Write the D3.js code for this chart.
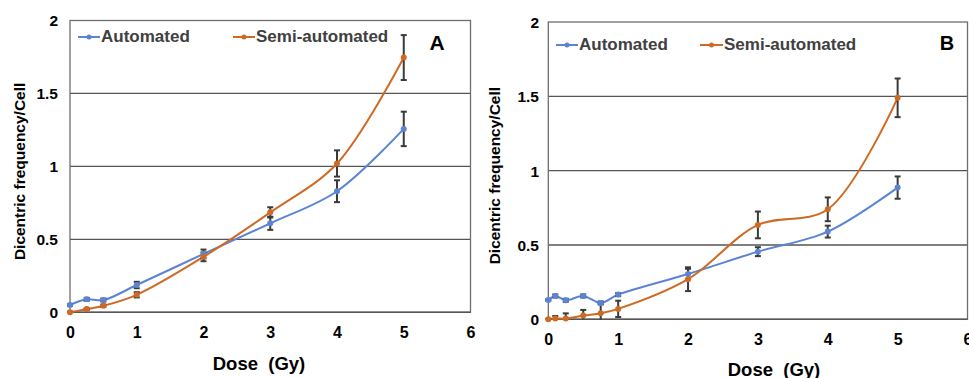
<!DOCTYPE html>
<html><head><meta charset="utf-8">
<script src="https://cdn.jsdelivr.net/npm/d3@7"></script>
<style>body{margin:0;background:#fff}svg{display:block}</style>
</head><body>
<svg id="c" width="969" height="378"></svg>
<script>
// ---- data ----
const xTicks = [0, 1, 2, 3, 4, 5, 6];
const yTicks = [0, 0.5, 1, 1.5, 2];
const yTickLabels = ["0", "0.5", "1", "1.5", "2"];
const seriesNames = ["Automated", "Semi-automated"];

const dosesA = [0, 0.25, 0.5, 1, 2, 3, 4, 5];
const autoA = [0.05, 0.089, 0.084, 0.187, 0.40, 0.61, 0.83, 1.257];
const autoErrA = [0.005, 0.01, 0.01, 0.022, 0.03, 0.045, 0.075, 0.118];
const semiA = [0, 0.022, 0.045, 0.12, 0.38, 0.685, 1.02, 1.746];
const semiErrA = [0.004, 0.005, 0.008, 0.018, 0.03, 0.035, 0.09, 0.154];

const dosesB = [0, 0.1, 0.25, 0.5, 0.75, 1, 2, 3, 4, 5];
const autoB = [0.13, 0.157, 0.128, 0.157, 0.11, 0.166, 0.305, 0.455, 0.59, 0.886];
const autoErrB = [0.005, 0.01, 0.01, 0.01, 0.01, 0.01, 0.035, 0.03, 0.04, 0.075];
const semiB = [0, 0.005, 0.005, 0.025, 0.04, 0.07, 0.27, 0.635, 0.74, 1.49];
const semiErrB = [0.003, 0.017, 0.035, 0.038, 0.065, 0.055, 0.08, 0.09, 0.08, 0.13];

// ---- drawing ----
const colors = ["#5b84d4", "#cf6a24"];
const svg = d3.select("#c");
const FONT = "'Liberation Sans', Arial, sans-serif";

const panels = [
  {label: "A", doses: dosesA, series: [[autoA, autoErrA], [semiA, semiErrA]],
   x0: 70, x1: 470.5, y0: 312.3, y1: 20.5,
   yTitleX: 25, yTickX: 58, xTickY: 337.5, xTitle: [259, 370],
   legend: [[78, 37, 101, 42], [233, 37, 256, 42]], letter: [437, 50, 21]},
  {label: "B", doses: dosesB, series: [[autoB, autoErrB], [semiB, semiErrB]],
   x0: 548.3, x1: 967.5, y0: 319.3, y1: 22,
   yTitleX: 500, yTickX: 539, xTickY: 344.5, xTitle: [774, 375.5],
   legend: [[556, 45, 579, 50], [700, 45, 724, 50]], letter: [947, 50, 20]}
];

panels.forEach(p => {
  const x = d3.scaleLinear().domain([0, 6]).range([p.x0, p.x1]);
  const y = d3.scaleLinear().domain([0, 2]).range([p.y0, p.y1]);
  const g = svg.append("g");

  // gridlines
  g.selectAll(".grid").data(yTicks.slice(1, 4)).join("line")
    .attr("x1", p.x0).attr("x2", p.x1)
    .attr("y1", d => y(d)).attr("y2", d => y(d))
    .attr("stroke", "#555").attr("stroke-width", 1.3);
  // frame
  g.append("rect").attr("x", p.x0).attr("y", y(2)).attr("width", p.x1 - p.x0).attr("height", y(0) - y(2))
    .attr("fill", "none").attr("stroke", "#6e6e6e").attr("stroke-width", 1.3);
  g.append("line").attr("x1", p.x0).attr("x2", p.x1).attr("y1", y(0)).attr("y2", y(0))
    .attr("stroke", "#555").attr("stroke-width", 1.5);

  // y ticks
  const ya = d3.axisLeft(y).tickValues(yTicks).tickFormat((d, i) => yTickLabels[i]).tickSize(0).tickPadding(0);
  const yg = g.append("g").attr("transform", `translate(${p.yTickX},0)`).call(ya);
  yg.select(".domain").remove();
  yg.selectAll("text").attr("font-family", FONT).attr("font-weight", "bold").attr("font-size", 15.5)
    .attr("fill", "#000").attr("dy", "0.35em");

  // x ticks
  const xa = d3.axisBottom(x).tickValues(xTicks).tickFormat(d3.format("d")).tickSize(0).tickPadding(0);
  const xg = g.append("g").attr("transform", `translate(0,${p.xTickY})`).call(xa);
  xg.select(".domain").remove();
  xg.selectAll("text").attr("font-family", FONT).attr("font-weight", "bold").attr("font-size", 16)
    .attr("fill", "#000").attr("dy", 0);

  // series
  const line = d3.line().x(d => x(d[0])).y(d => y(d[1])).curve(d3.curveCatmullRom.alpha(0.5));
  p.series.forEach((s, si) => {
    const pts = p.doses.map((d, i) => [d, s[0][i], s[1][i]]);
    g.append("path").datum(pts).attr("d", line).attr("fill", "none")
      .attr("stroke", colors[si]).attr("stroke-width", 2);
  });
  // error bars
  p.series.forEach((s, si) => {
    const pts = p.doses.map((d, i) => [d, s[0][i], s[1][i]]);
    const eb = g.append("g").attr("stroke", "#3a3a3a").attr("stroke-width", 2);
    pts.forEach(d => {
      const lo = Math.max(0, d[1] - d[2]), hi = d[1] + d[2];
      eb.append("line").attr("x1", x(d[0])).attr("x2", x(d[0])).attr("y1", y(lo)).attr("y2", y(hi));
      eb.append("line").attr("x1", x(d[0]) - 3).attr("x2", x(d[0]) + 3).attr("y1", y(hi)).attr("y2", y(hi));
      if (d[1] - d[2] > 0)
        eb.append("line").attr("x1", x(d[0]) - 3).attr("x2", x(d[0]) + 3).attr("y1", y(lo)).attr("y2", y(lo));
    });
  });
  // markers
  p.series.forEach((s, si) => {
    const pts = p.doses.map((d, i) => [d, s[0][i]]);
    g.selectAll(".m" + si).data(pts).join("circle")
      .attr("cx", d => x(d[0])).attr("cy", d => y(d[1])).attr("r", 3)
      .attr("fill", colors[si]);
  });

  // legend
  seriesNames.forEach((n, si) => {
    const [lx, ly, tx, ty] = p.legend[si];
    g.append("line").attr("x1", lx).attr("x2", tx - 1).attr("y1", ly).attr("y2", ly)
      .attr("stroke", colors[si]).attr("stroke-width", 2);
    g.append("circle").attr("cx", (lx + tx - 1) / 2).attr("cy", ly).attr("r", 2.5).attr("fill", colors[si]);
    g.append("text").attr("x", tx).attr("y", ty).text(n)
      .attr("font-family", FONT).attr("font-weight", "bold").attr("font-size", 17).attr("fill", "#404040");
  });

  // panel letter
  g.append("text").attr("x", p.letter[0]).attr("y", p.letter[1]).text(p.label)
    .attr("text-anchor", "middle").attr("font-family", FONT).attr("font-weight", "bold")
    .attr("font-size", p.letter[2]).attr("fill", "#000");

  // axis titles
  g.append("text").attr("transform", `translate(${p.yTitleX},${(p.y0 + p.y1) / 2 + 5}) rotate(-90)`)
    .attr("text-anchor", "middle").text("Dicentric frequency/Cell")
    .attr("font-family", FONT).attr("font-weight", "bold").attr("font-size", 15.5).attr("fill", "#000");
  g.append("text").attr("x", p.xTitle[0]).attr("y", p.xTitle[1]).attr("text-anchor", "middle")
    .attr("xml:space", "preserve").style("white-space", "pre").text("Dose  (Gy)")
    .attr("font-family", FONT).attr("font-weight", "bold").attr("font-size", 18.5).attr("fill", "#000");
});
</script>
</body></html>
